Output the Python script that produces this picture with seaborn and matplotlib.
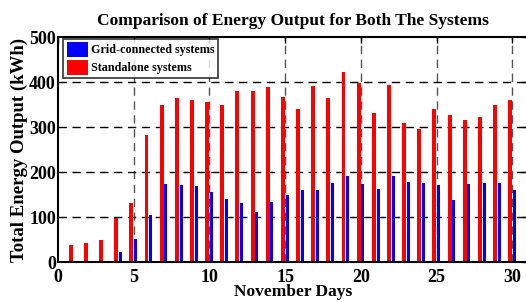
import numpy as np
import pandas as pd
import seaborn as sns
import matplotlib.pyplot as plt

days = np.arange(1, 31)
standalone = [38, 44, 50, 99, 133, 284, 349, 365, 360, 356,
              349, 382, 380, 389, 367, 341, 391, 365, 423, 398,
              332, 395, 310, 296, 341, 327, 317, 324, 350, 362]
grid = [3, 2, 3, 24, 51, 105, 174, 173, 169, 157,
        141, 131, 112, 135, 149, 161, 161, 177, 191, 175,
        164, 193, 179, 177, 171, 139, 175, 177, 176, 161]

sns.set_theme(style="white")
plt.rcParams['font.family'] = ['Liberation Serif', 'DejaVu Serif']
plt.rcParams['font.weight'] = 'bold'
plt.rcParams['text.color'] = 'black'
plt.rcParams['axes.labelcolor'] = 'black'

fig = plt.figure(figsize=(5.26, 3.02), dpi=100)
ax = fig.add_axes([0.110, 0.131, 0.893, 0.745])

df_s = pd.DataFrame({"day": days - 0.15, "val": standalone})
df_g = pd.DataFrame({"day": days + 0.13, "val": grid})

sns.barplot(data=df_s, x="day", y="val", native_scale=True, width=0.26,
            color="#ff0000", saturation=1, ax=ax, label="Standalone systems",
            linewidth=0)
sns.barplot(data=df_g, x="day", y="val", native_scale=True, width=0.2,
            color="#0000ff", saturation=1, ax=ax, label="Grid-connected systems",
            linewidth=0)

ax.set_xlim(0, 31)
ax.set_ylim(0, 500)
ax.set_xticks([0, 5, 10, 15, 20, 25, 30])
ax.set_yticks([0, 100, 200, 300, 400, 500])
ax.set_xticklabels(["0", "5", "10", "15", "20", "25", "30"])
ax.set_yticklabels(["0", "100", "200", "300", "400", "500"])
ax.tick_params(direction="in", top=True, right=True, length=4, width=1,
               labelsize=13, colors="black")
ax.tick_params(axis="x", pad=4.5)
ax.tick_params(axis="y", pad=1.5)
for lbl in ax.get_xticklabels() + ax.get_yticklabels():
    lbl.set_fontweight("bold")

for x in [5, 10, 15, 20, 25, 30]:
    ax.axvline(x, color="#555555", linestyle=(0, (6, 4)), linewidth=1, zorder=0)
for y in [100, 200, 300, 400]:
    ax.axhline(y, color="black", linestyle=(0, (6, 4)), linewidth=1, zorder=0)

for s in ax.spines.values():
    s.set_color("black")
    s.set_linewidth(1.5)

ax.set_xlabel("November Days", fontsize=12.5, fontweight="bold", labelpad=-1)
ax.set_ylabel("Total Energy Output (kWh)", fontsize=13.5, fontweight="bold", labelpad=1)
ax.set_title("Comparison of Energy Output for Both The Systems",
             fontsize=12.5, fontweight="bold", pad=9)

handles, labels = ax.get_legend_handles_labels()
order = [labels.index("Grid-connected systems"), labels.index("Standalone systems")]
leg = ax.legend([handles[i] for i in order], [labels[i] for i in order],
                loc="upper left", bbox_to_anchor=(0.012, 0.995),
                prop={"weight": "bold", "size": 8.7}, frameon=True, fancybox=False,
                edgecolor="black", borderpad=0.25, handlelength=1.75, handleheight=1.6,
                handletextpad=0.3, labelspacing=0.2, borderaxespad=0)
leg.get_frame().set_linewidth(1.2)

fig.savefig("out.png", dpi=100)
